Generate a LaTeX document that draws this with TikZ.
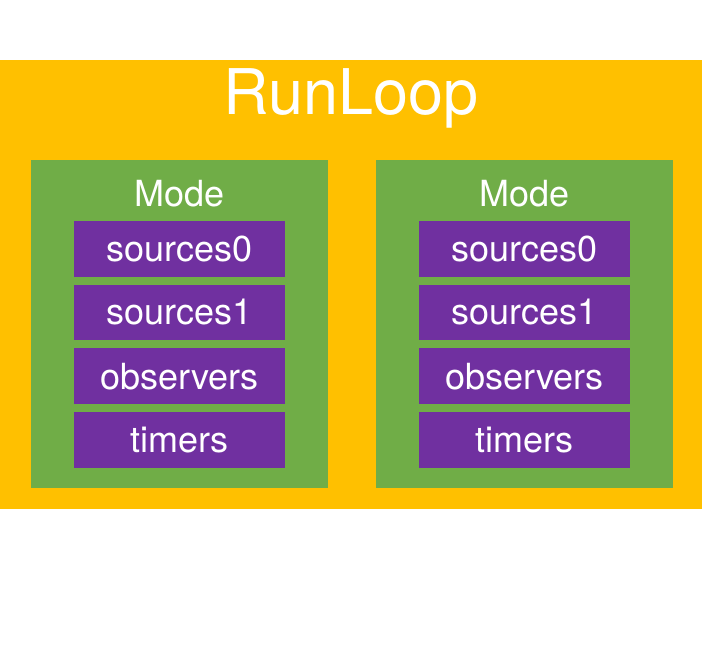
\documentclass[tikz,border=0pt]{standalone}
\usepackage{fontspec}
\setmainfont{TeX Gyre Heros}
\definecolor{loopyellow}{HTML}{FFC000}
\definecolor{modegreen}{HTML}{70AD47}
\definecolor{itempurple}{HTML}{7030A0}

\begin{document}
\begin{tikzpicture}[x=1bp,y=-1bp,
    box/.style={rectangle,inner sep=0pt,outer sep=0pt},
    loopbox/.style={box,fill=loopyellow,anchor=north west,minimum width=702bp,minimum height=449bp},
    modebox/.style={box,fill=modegreen,anchor=north west,minimum width=297bp,minimum height=328bp},
    itembox/.style={box,fill=itempurple,anchor=north west,minimum width=211bp,minimum height=55.5bp,
      text=white,font=\fontsize{36bp}{42bp}\selectfont},
    title/.style={text=white,anchor=base,inner sep=0pt}]
     % page
     \fill[white] (0,0) rectangle (702,648);
     \useasboundingbox (0,0) rectangle (702,648);

     % run loop
     \node[loopbox] (runloop) at (0,60) {};
     \node[title,font=\fontsize{63bp}{72bp}\selectfont] (runlooplabel) at (351,115) {RunLoop};

     % two modes, four items each
     \foreach \mx/\mn in {31/a,376/b} {
       \node[modebox] (mode-\mn) at (\mx,160) {};
       \node[title,font=\fontsize{36bp}{42bp}\selectfont] (modelabel-\mn) at (\mx+148.5,207) {Mode};
       \foreach \txt [count=\i from 0] in {sources0,sources1,observers,timers}
         \node[itembox] (item-\mn-\i) at (\mx+43,221+63.7*\i) {\txt};
     }
\end{tikzpicture}
\end{document}
